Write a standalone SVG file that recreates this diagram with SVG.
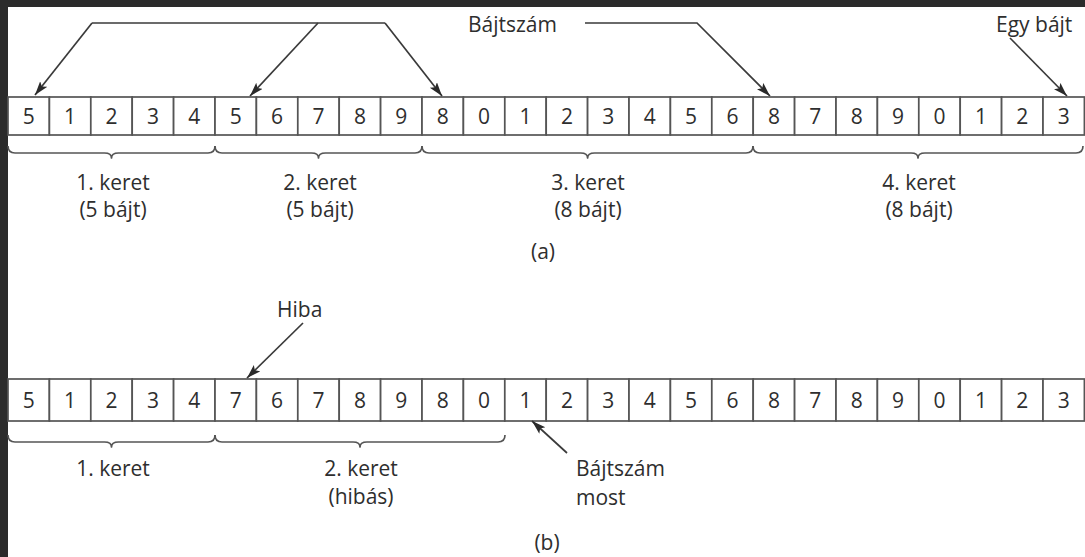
<svg xmlns="http://www.w3.org/2000/svg" width="1085" height="557" viewBox="0 0 1085 557">
  <style>
    .cell rect { fill: #ffffff; stroke: #555555; stroke-width: 1.7; }
    .cell text, .lbl { font-family: "Open Sans", "Noto Sans", "Liberation Sans", sans-serif; font-size: 21px; fill: #2e2e2e; }
    .cell text { text-anchor: middle; }
    .mid { text-anchor: middle; }
    .wire { fill: none; stroke: #3a3a3a; stroke-width: 1.7; }
    .arrow { fill: none; stroke: #3a3a3a; stroke-width: 1.7; marker-end: url(#head); }
    .brace { fill: none; stroke: #555555; stroke-width: 1.7; stroke-linejoin: round; }
  </style>
  <defs>
    <marker id="head" markerUnits="userSpaceOnUse" markerWidth="15" markerHeight="10" refX="14" refY="4.5" orient="auto">
      <path d="M0,0 L14,4.5 L0,9 L3,4.5 z" fill="#2a2a2a"/>
    </marker>
  </defs>

  <!-- page background with dark frame strips -->
  <rect x="0" y="0" width="1085" height="557" fill="#ffffff"/>
  <rect x="0" y="0" width="1085" height="7" fill="#2b2b2b"/>
  <rect x="0" y="0" width="8" height="557" fill="#2b2b2b"/>

  <!-- row (a): byte stream with count bytes -->
  <g id="row-a">
    <g id="a0" class="cell"><rect x="8" y="97" width="41.4" height="38"/><text x="28.7" y="124">5</text></g>
    <g id="a1" class="cell"><rect x="49.4" y="97" width="41.4" height="38"/><text x="70.1" y="124">1</text></g>
    <g id="a2" class="cell"><rect x="90.8" y="97" width="41.4" height="38"/><text x="111.5" y="124">2</text></g>
    <g id="a3" class="cell"><rect x="132.2" y="97" width="41.4" height="38"/><text x="152.9" y="124">3</text></g>
    <g id="a4" class="cell"><rect x="173.6" y="97" width="41.4" height="38"/><text x="194.3" y="124">4</text></g>
    <g id="a5" class="cell"><rect x="215" y="97" width="41.4" height="38"/><text x="235.7" y="124">5</text></g>
    <g id="a6" class="cell"><rect x="256.4" y="97" width="41.4" height="38"/><text x="277.1" y="124">6</text></g>
    <g id="a7" class="cell"><rect x="297.8" y="97" width="41.4" height="38"/><text x="318.5" y="124">7</text></g>
    <g id="a8" class="cell"><rect x="339.2" y="97" width="41.4" height="38"/><text x="359.9" y="124">8</text></g>
    <g id="a9" class="cell"><rect x="380.6" y="97" width="41.4" height="38"/><text x="401.3" y="124">9</text></g>
    <g id="a10" class="cell"><rect x="422" y="97" width="41.4" height="38"/><text x="442.7" y="124">8</text></g>
    <g id="a11" class="cell"><rect x="463.4" y="97" width="41.4" height="38"/><text x="484.1" y="124">0</text></g>
    <g id="a12" class="cell"><rect x="504.8" y="97" width="41.4" height="38"/><text x="525.5" y="124">1</text></g>
    <g id="a13" class="cell"><rect x="546.2" y="97" width="41.4" height="38"/><text x="566.9" y="124">2</text></g>
    <g id="a14" class="cell"><rect x="587.6" y="97" width="41.4" height="38"/><text x="608.3" y="124">3</text></g>
    <g id="a15" class="cell"><rect x="629" y="97" width="41.4" height="38"/><text x="649.7" y="124">4</text></g>
    <g id="a16" class="cell"><rect x="670.4" y="97" width="41.4" height="38"/><text x="691.1" y="124">5</text></g>
    <g id="a17" class="cell"><rect x="711.8" y="97" width="41.4" height="38"/><text x="732.5" y="124">6</text></g>
    <g id="a18" class="cell"><rect x="753.2" y="97" width="41.4" height="38"/><text x="773.9" y="124">8</text></g>
    <g id="a19" class="cell"><rect x="794.6" y="97" width="41.4" height="38"/><text x="815.3" y="124">7</text></g>
    <g id="a20" class="cell"><rect x="836" y="97" width="41.4" height="38"/><text x="856.7" y="124">8</text></g>
    <g id="a21" class="cell"><rect x="877.4" y="97" width="41.4" height="38"/><text x="898.1" y="124">9</text></g>
    <g id="a22" class="cell"><rect x="918.8" y="97" width="41.4" height="38"/><text x="939.5" y="124">0</text></g>
    <g id="a23" class="cell"><rect x="960.2" y="97" width="41.4" height="38"/><text x="980.9" y="124">1</text></g>
    <g id="a24" class="cell"><rect x="1001.6" y="97" width="41.4" height="38"/><text x="1022.3" y="124">2</text></g>
    <g id="a25" class="cell"><rect x="1043" y="97" width="41.4" height="38"/><text x="1063.7" y="124">3</text></g>
  </g>

  <!-- row (b): the same stream after a corrupted count byte -->
  <g id="row-b">
    <g id="b0" class="cell"><rect x="8" y="379" width="41.4" height="42"/><text x="28.7" y="408">5</text></g>
    <g id="b1" class="cell"><rect x="49.4" y="379" width="41.4" height="42"/><text x="70.1" y="408">1</text></g>
    <g id="b2" class="cell"><rect x="90.8" y="379" width="41.4" height="42"/><text x="111.5" y="408">2</text></g>
    <g id="b3" class="cell"><rect x="132.2" y="379" width="41.4" height="42"/><text x="152.9" y="408">3</text></g>
    <g id="b4" class="cell"><rect x="173.6" y="379" width="41.4" height="42"/><text x="194.3" y="408">4</text></g>
    <g id="b5" class="cell"><rect x="215" y="379" width="41.4" height="42"/><text x="235.7" y="408">7</text></g>
    <g id="b6" class="cell"><rect x="256.4" y="379" width="41.4" height="42"/><text x="277.1" y="408">6</text></g>
    <g id="b7" class="cell"><rect x="297.8" y="379" width="41.4" height="42"/><text x="318.5" y="408">7</text></g>
    <g id="b8" class="cell"><rect x="339.2" y="379" width="41.4" height="42"/><text x="359.9" y="408">8</text></g>
    <g id="b9" class="cell"><rect x="380.6" y="379" width="41.4" height="42"/><text x="401.3" y="408">9</text></g>
    <g id="b10" class="cell"><rect x="422" y="379" width="41.4" height="42"/><text x="442.7" y="408">8</text></g>
    <g id="b11" class="cell"><rect x="463.4" y="379" width="41.4" height="42"/><text x="484.1" y="408">0</text></g>
    <g id="b12" class="cell"><rect x="504.8" y="379" width="41.4" height="42"/><text x="525.5" y="408">1</text></g>
    <g id="b13" class="cell"><rect x="546.2" y="379" width="41.4" height="42"/><text x="566.9" y="408">2</text></g>
    <g id="b14" class="cell"><rect x="587.6" y="379" width="41.4" height="42"/><text x="608.3" y="408">3</text></g>
    <g id="b15" class="cell"><rect x="629" y="379" width="41.4" height="42"/><text x="649.7" y="408">4</text></g>
    <g id="b16" class="cell"><rect x="670.4" y="379" width="41.4" height="42"/><text x="691.1" y="408">5</text></g>
    <g id="b17" class="cell"><rect x="711.8" y="379" width="41.4" height="42"/><text x="732.5" y="408">6</text></g>
    <g id="b18" class="cell"><rect x="753.2" y="379" width="41.4" height="42"/><text x="773.9" y="408">8</text></g>
    <g id="b19" class="cell"><rect x="794.6" y="379" width="41.4" height="42"/><text x="815.3" y="408">7</text></g>
    <g id="b20" class="cell"><rect x="836" y="379" width="41.4" height="42"/><text x="856.7" y="408">8</text></g>
    <g id="b21" class="cell"><rect x="877.4" y="379" width="41.4" height="42"/><text x="898.1" y="408">9</text></g>
    <g id="b22" class="cell"><rect x="918.8" y="379" width="41.4" height="42"/><text x="939.5" y="408">0</text></g>
    <g id="b23" class="cell"><rect x="960.2" y="379" width="41.4" height="42"/><text x="980.9" y="408">1</text></g>
    <g id="b24" class="cell"><rect x="1001.6" y="379" width="41.4" height="42"/><text x="1022.3" y="408">2</text></g>
    <g id="b25" class="cell"><rect x="1043" y="379" width="41.4" height="42"/><text x="1063.7" y="408">3</text></g>
  </g>

  <!-- frame braces -->
  <g id="braces">
    <path class="brace" d="M8,146 Q8,153 15,153 H104.5 Q111.5,153 111.5,158 Q111.5,153 118.5,153 H208 Q215,153 215,146"/>
    <path class="brace" d="M215,146 Q215,153 222,153 H311.5 Q318.5,153 318.5,158 Q318.5,153 325.5,153 H415 Q422,153 422,146"/>
    <path class="brace" d="M422,146 Q422,153 429,153 H580.6 Q587.6,153 587.6,158 Q587.6,153 594.6,153 H746 Q753,153 753,146"/>
    <path class="brace" d="M753,146 Q753,153 760,153 H911 Q918,153 918,158 Q918,153 925,153 H1076 Q1083,153 1083,146"/>
    <path class="brace" d="M8,435 Q8,442 15,442 H104.5 Q111.5,442 111.5,447 Q111.5,442 118.5,442 H208 Q215,442 215,435"/>
    <path class="brace" d="M215,435 Q215,442 222,442 H353 Q360,442 360,447 Q360,442 367,442 H498 Q505,442 505,435"/>
  </g>

  <!-- connectors -->
  <g id="connectors">
    <path class="wire" d="M92,23 H385"/>
    <path class="arrow" d="M92,23 L35,95"/>
    <path class="arrow" d="M318,23 L250,96"/>
    <path class="arrow" d="M385,23 L442,96"/>
    <path class="arrow" d="M585,23 H697 L770,96"/>
    <path class="arrow" d="M1010,38 L1067,96"/>
    <path class="arrow" d="M303,323 L247,378"/>
    <path class="arrow" d="M567,453 L532,421"/>
  </g>

  <!-- labels -->
  <g id="labels">
    <text class="lbl" x="468" y="32">Bájtszám</text>
    <text class="lbl" x="996" y="32">Egy bájt</text>
    <text class="lbl mid" x="113" y="190">1. keret</text>
    <text class="lbl mid" x="113" y="217">(5 bájt)</text>
    <text class="lbl mid" x="320" y="190">2. keret</text>
    <text class="lbl mid" x="320" y="217">(5 bájt)</text>
    <text class="lbl mid" x="588" y="190">3. keret</text>
    <text class="lbl mid" x="588" y="217">(8 bájt)</text>
    <text class="lbl mid" x="919" y="190">4. keret</text>
    <text class="lbl mid" x="919" y="217">(8 bájt)</text>
    <text class="lbl mid" x="543" y="259">(a)</text>
    <text class="lbl" x="277" y="317">Hiba</text>
    <text class="lbl mid" x="113" y="476">1. keret</text>
    <text class="lbl mid" x="361" y="476">2. keret</text>
    <text class="lbl mid" x="361" y="504">(hibás)</text>
    <text class="lbl" x="576" y="476">Bájtszám</text>
    <text class="lbl" x="576" y="505">most</text>
    <text class="lbl mid" x="547" y="550">(b)</text>
  </g>
</svg>
